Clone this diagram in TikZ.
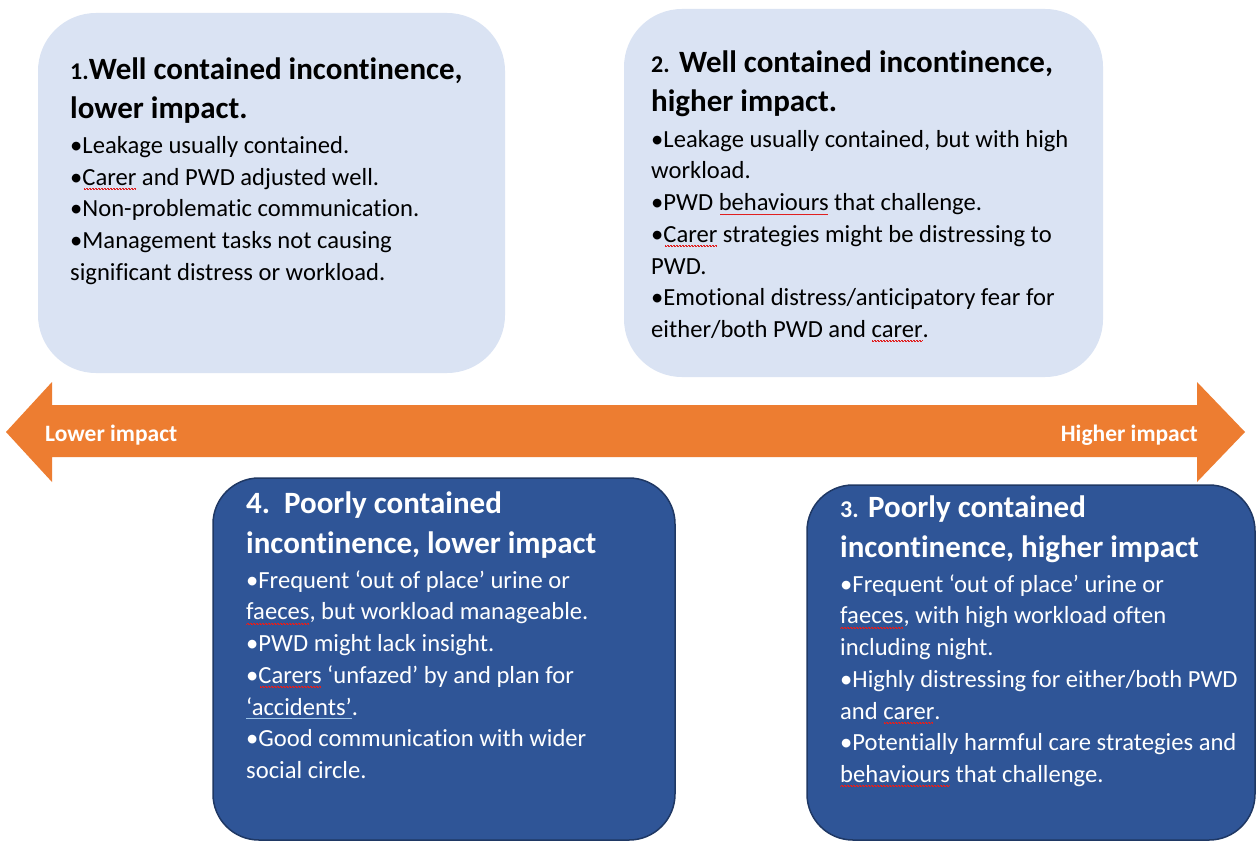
\documentclass[tikz,border=0pt]{standalone}
\usepackage{fontspec}
\setmainfont{Carlito}[Ligatures={NoCommon}]
\definecolor{lightbox}{HTML}{DAE3F3}
\definecolor{darkfill}{HTML}{2F5597}
\definecolor{darkline}{HTML}{1F3864}
\definecolor{arroworange}{HTML}{ED7D31}
\definecolor{squigred}{HTML}{E02020}
\definecolor{linkblue}{HTML}{9DC3E6}
\newsavebox\sqbox
\newcommand\squig[1]{\sbox\sqbox{#1}\rlap{\usebox\sqbox}{\color{squigred}\leaders\hbox{\rule[-4.5pt]{0.75pt}{0.75pt}\rule[-3.8pt]{0.75pt}{0.75pt}}\hskip\wd\sqbox}}
\newcommand\bluline[1]{\sbox\sqbox{#1}\rlap{\usebox\sqbox}{\color{linkblue}\rule[-3.8pt]{\wd\sqbox}{1.2pt}}}
\begin{document}
\begin{tikzpicture}[x=1pt,y=-1pt,
  lbox/.style={rectangle, rounded corners=58pt, fill=lightbox, draw=none, inner sep=0pt, outer sep=0pt},
  dbox/.style={rectangle, rounded corners=46pt, fill=darkfill, draw=darkline, line width=1.5pt, inner sep=0pt, outer sep=0pt},
  ttl/.style={font=\fontsize{31}{39.5}\selectfont\bfseries, align=left, inner sep=0pt, anchor=north west},
  body/.style={font=\fontsize{24.6}{31.8}\selectfont, align=left, inner sep=0pt, anchor=north west},
  lbl/.style={font=\fontsize{23.5}{28}\selectfont\bfseries, text=white, inner sep=0pt}
]
\useasboundingbox (0,0) rectangle (1257,843);
\fill[white] (0,0) rectangle (1257,843);

% boxes
\node[lbox, minimum width=467pt, minimum height=360pt] (box1) at (271.5,193) {};
\node[lbox, minimum width=479pt, minimum height=368pt] (box2) at (863.5,193) {};
\node[dbox, minimum width=462pt, minimum height=362pt] (box4) at (444,659) {};
\node[dbox, minimum width=448pt, minimum height=355pt] (box3) at (1031,662.5) {};

% double arrow
\fill[arroworange] (6,432) -- (52,382) -- (52,405) -- (1197,405) -- (1197,382)
  -- (1245,432) -- (1197,482) -- (1197,457) -- (52,457) -- (52,482) -- cycle;
\node[lbl, anchor=base west] (lo) at (45,441) {Lower impact};
\node[lbl, anchor=base east] (hi) at (1198,441) {Higher impact};

% box 1
\node[ttl] (t1) at (70,49) {\rule{0pt}{30pt}{\fontsize{24}{24}\selectfont 1.}Well contained incontinence,\\lower impact.};
\node[body] (b1) at (70,127) {\rule{0pt}{26pt}•Leakage usually contained.\\
•\squig{Carer} and PWD adjusted well.\\
•Non-problematic communication.\\
•Management tasks not causing\\
significant distress or workload.};

% box 2
\node[ttl] (t2) at (651,42) {\rule{0pt}{30pt}{\fontsize{24}{24}\selectfont 2.} Well contained incontinence,\\higher impact.};
\node[body, font=\fontsize{24.6}{31.7}\selectfont] (b2) at (651,121) {\rule{0pt}{26pt}•Leakage usually contained, but with high\\
workload.\\
•PWD \squig{behaviours} that challenge.\\
•\squig{Carer} strategies might be distressing to\\
PWD.\\
•Emotional distress/anticipatory fear for\\
either/both PWD and \squig{carer}.};

% box 4
\node[ttl, text=white, font=\fontsize{31}{40}\selectfont\bfseries] (t4) at (246,483) {\rule{0pt}{30pt}4.\hspace{0.45em}Poorly contained\\incontinence, lower impact};
\node[body, text=white, font=\fontsize{24.6}{31.7}\selectfont] (b4) at (246,562) {\rule{0pt}{26pt}•Frequent ‘out of place’ urine or\\
\squig{faeces}, but workload manageable.\\
•PWD might lack insight.\\
•\squig{Carers} ‘unfazed’ by and plan for\\
\bluline{‘accidents’}.\\
•Good communication with wider\\
social circle.};

% box 3
\node[ttl, text=white, font=\fontsize{31}{40}\selectfont\bfseries] (t3) at (840,487) {\rule{0pt}{30pt}{\fontsize{24}{24}\selectfont 3.} Poorly contained\\incontinence, higher impact};
\node[body, text=white, font=\fontsize{24.6}{31.7}\selectfont] (b3) at (840,566) {\rule{0pt}{26pt}•Frequent ‘out of place’ urine or\\
\squig{faeces}, with high workload often\\
including night.\\
•Highly distressing for either/both PWD\\
and \squig{carer}.\\
•Potentially harmful care strategies and\\
\squig{behaviours} that challenge.};
\end{tikzpicture}
\end{document}
